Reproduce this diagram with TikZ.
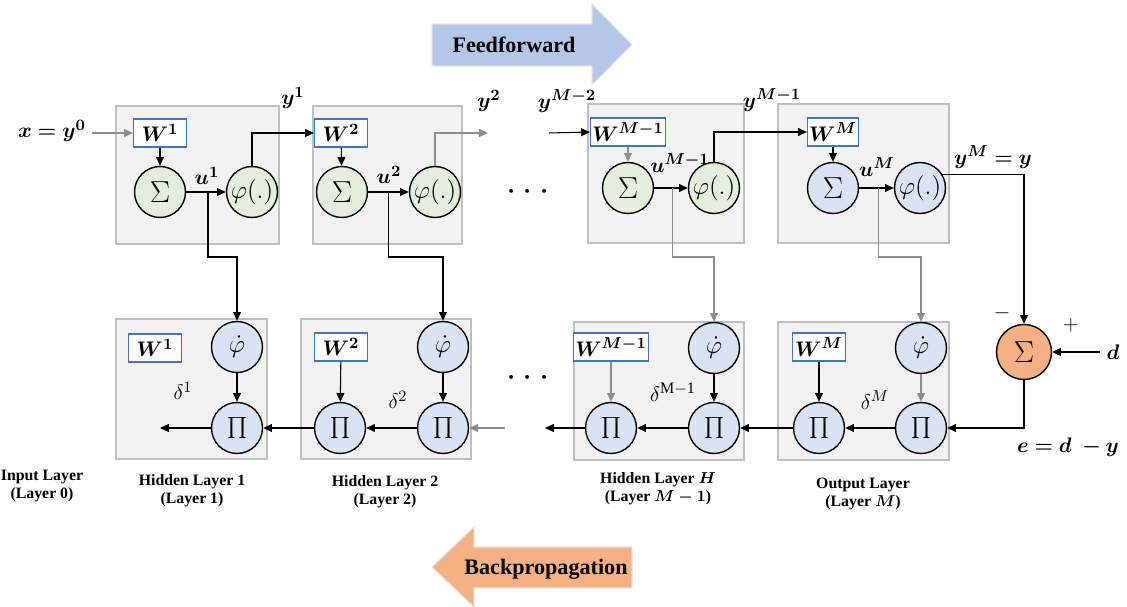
\documentclass[tikz,border=0pt]{standalone}
\usepackage{amsmath}
\usepackage{fontspec}
\setmainfont{Liberation Serif}
\usepackage{bm}
\usetikzlibrary{arrows.meta,calc}

\definecolor{sumgreen}{RGB}{226,239,218}
\definecolor{unitblue}{RGB}{218,227,243}
\definecolor{errorange}{RGB}{244,177,131}
\definecolor{panelgray}{RGB}{242,242,242}
\definecolor{panelline}{RGB}{191,191,191}
\definecolor{wline}{RGB}{68,114,196}
\definecolor{ffblue}{RGB}{180,199,231}

\begin{document}
\begin{tikzpicture}[x = 0.02cm, y = 0.02cm,
        every path/.style = {line width = 0.6pt},
        > = {Triangle[length = 5pt, width = 4.5pt]},
        mathlbl/.style = {font = \fontsize{13}{14}\selectfont},
        wbox/.style = {draw = wline, fill = white, line width = 0.7pt,
            minimum width = 1.06cm, minimum height = 0.56cm, inner sep = 1pt, mathlbl},
        unit/.style = {circle, draw, line width = 0.8pt, minimum size = 1.02cm,
            inner sep = 0pt, font = \fontsize{14}{15}\selectfont},
        sumsym/.style = {font = \fontsize{17}{18}\selectfont},
        prodsym/.style = {font = \fontsize{12}{13}\selectfont},
        faint/.style = {draw = black!45},
        caption/.style = {align = center, font = \fontsize{9}{10}\selectfont\bfseries},
        bigarrow/.style = {font = \fontsize{12.6}{14}\selectfont\bfseries}]

        \useasboundingbox (0,0) rectangle (1127,-607);

        % Free ends of the connectors.
        \coordinate (x0) at (92,-133);
        \coordinate (y2end) at (488,-133);
        \coordinate (yM2) at (549,-133);
        \coordinate (turn) at (0,-257);
        \coordinate (back2) at (505,-428);
        \coordinate (backH) at (545,-428);
        \coordinate (back1) at (160,-428);

        % The gray panels of every layer.
        \begin{scope}[%
            fill = panelgray,
            draw = panelline
        ]
            \filldraw (116,-106) rectangle (279,-244);
            \filldraw (313,-106) rectangle (462,-244);
            \filldraw (588,-104) rectangle (744,-243);
            \filldraw (778,-104) rectangle (949,-243);
            \filldraw (116,-319) rectangle (267,-459);
            \filldraw (301,-319) rectangle (471,-459);
            \filldraw (574,-322) rectangle (744,-460);
            \filldraw (778,-322) rectangle (949,-460);
        \end{scope}

        % The two big arrows.
        \filldraw[fill = ffblue, draw = black!10] (432,-24) -- (592,-24) -- (592,-4)
            -- (632,-44.5) -- (592,-85) -- (592,-66) -- (432,-66) -- cycle;
        \node[bigarrow] (ff) at (514,-45) {Feedforward};
        \filldraw[fill = errorange, draw = black!10] (632,-547) -- (474,-547) -- (474,-527)
            -- (432,-567) -- (474,-607) -- (474,-588) -- (632,-588) -- cycle;
        \node[bigarrow] (bp) at (546,-569) {Backpropagation};

        % Forward pass.
        \node[wbox] (W1) at (160,-133) {$\bm{W^1}$};
        \node[unit, sumsym, fill = sumgreen] (S1) at (160,-192) {$\Sigma$};
        \node[unit, fill = sumgreen] (P1) at (252,-192) {$\varphi(.)$};
        \node[wbox] (W2) at (341,-133) {$\bm{W^2}$};
        \node[unit, sumsym, fill = sumgreen] (S2) at (342,-192) {$\Sigma$};
        \node[unit, fill = sumgreen] (P2) at (435,-192) {$\varphi(.)$};
        \node[wbox, minimum width = 1.28cm] (WH) at (628,-132) {$\bm{W^{M-1}}$};
        \node[unit, sumsym, fill = sumgreen] (SH) at (628,-188) {$\Sigma$};
        \node[unit, fill = sumgreen] (PH) at (714,-188) {$\varphi(.)$};
        \node[wbox, minimum width = 0.9cm] (WM) at (833,-132) {$\bm{W^M}$};
        \node[unit, sumsym, fill = unitblue] (SM) at (833,-188) {$\Sigma$};
        \node[unit, fill = unitblue] (PM) at (920,-188) {$\varphi(.)$};
        \node[unit, sumsym, fill = errorange, minimum size = 1.1cm] (E) at (1024,-352) {$\Sigma$};
        \node[mathlbl] (d) at (1113,-352) {$\bm{d}$};

        % Backward pass.
        \node[wbox] (W1b) at (155,-348) {$\bm{W^1}$};
        \node[unit, fill = unitblue] (D1) at (237,-347) {$\dot{\varphi}$};
        \node[unit, prodsym, fill = unitblue] (Q1) at (237,-428) {$\prod$};
        \node[wbox] (W2b) at (341,-347) {$\bm{W^2}$};
        \node[unit, prodsym, fill = unitblue] (Q21) at (340,-428) {$\prod$};
        \node[unit, fill = unitblue] (D2) at (443,-347) {$\dot{\varphi}$};
        \node[unit, prodsym, fill = unitblue] (Q22) at (443,-428) {$\prod$};
        \node[wbox, minimum width = 1.24cm] (WHb) at (611,-347) {$\bm{W^{M-1}}$};
        \node[unit, prodsym, fill = unitblue] (QH1) at (611,-428) {$\prod$};
        \node[unit, fill = unitblue] (DH) at (714,-348) {$\dot{\varphi}$};
        \node[unit, prodsym, fill = unitblue] (QH2) at (714,-428) {$\prod$};
        \node[wbox] (WMb) at (819,-347) {$\bm{W^M}$};
        \node[unit, prodsym, fill = unitblue] (QM1) at (819,-428) {$\prod$};
        \node[unit, fill = unitblue] (DM) at (921,-348) {$\dot{\varphi}$};
        \node[unit, prodsym, fill = unitblue] (QM2) at (921,-428) {$\prod$};

        % Branch points on the u lines.
        \coordinate (b1) at ($(S1.east)!0.55!(P1.west)$);
        \coordinate (b2) at ($(S2.east)!0.5!(P2.west)$);
        \coordinate (bH) at ($(SH.east)!0.55!(PH.west)$);
        \coordinate (bM) at ($(SM.east)!0.55!(PM.west)$);

        % Forward connectors.
        \draw[->, faint] (x0) -- (W1.west);
        \draw[->] (W1) -- (S1);
        \draw[->] (S1) -- (P1);
        \draw[->] (P1.north) |- (W2.west);
        \draw[->] (W2) -- (S2);
        \draw[->] (S2) -- (P2);
        \draw[->, faint] (P2.north) |- (y2end);
        \draw[->] (yM2) -- (WH.west);
        \draw[->, faint] (WH) -- (SH);
        \draw[->] (SH) -- (PH);
        \draw[->] (PH.north) |- (WM.west);
        \draw[->] (WM) -- (SM);
        \draw[->] (SM) -- (PM);
        \draw[->] (PM.32) -| (E.north);
        \draw[->] (d) -- (E);

        % From the forward pass down to the derivatives.
        \draw[->] (b1) -- (b1 |- turn) -| (D1.north);
        \draw[->] (b2) -- (b2 |- turn) -| (D2.north);
        \draw[->, faint] (bH) -- (bH |- turn) -| (DH.north);
        \draw[->, faint] (bM) -- (bM |- turn) -| (DM.north);

        % Backward connectors.
        \draw[->] (E.south) |- (QM2.east);
        \draw[->, faint] (DM) -- (QM2);
        \draw[->] (WMb) -- (QM1);
        \draw[->] (QM2) -- (QM1);
        \draw[->] (QM1) -- (QH2);
        \draw[->] (DH) -- (QH2);
        \draw[->, faint] (WHb) -- (QH1);
        \draw[->] (QH2) -- (QH1);
        \draw[->] (QH1.west) -- (backH);
        \draw[->, faint] (back2) -- (Q22.east);
        \draw[->] (D2) -- (Q22);
        \draw[->] (W2b) -- (Q21);
        \draw[->] (Q22) -- (Q21);
        \draw[->] (Q21) -- (Q1);
        \draw[->] (D1) -- (Q1);
        \draw[->] (Q1.west) -- (back1);

        % Label everything.
        \node[mathlbl] (lx) at (52,-131) {$\bm{x = y^0}$};
        \node[mathlbl] (ly1) at (293,-98) {$\bm{y^1}$};
        \node[mathlbl] (lu1) at (207,-176) {$\bm{u^1}$};
        \node[mathlbl] (lu2) at (389,-175) {$\bm{u^2}$};
        \node[mathlbl] (ly2) at (489,-101) {$\bm{y^2}$};
        \node[mathlbl] (lyM2) at (567,-101) {$\bm{y^{M-2}}$};
        \node[mathlbl] (luH) at (680,-163) {$\bm{u^{M-1}}$};
        \node[mathlbl] (lyM1) at (772,-100) {$\bm{y^{M-1}}$};
        \node[mathlbl] (luM) at (877,-167) {$\bm{u^M}$};
        \node[mathlbl] (lyM) at (993,-157) {$\bm{y^M = y}$};
        \node[mathlbl] (lminus) at (1002,-313) {$-$};
        \node[mathlbl] (lplus) at (1071,-325) {$+$};
        \node[mathlbl] (le) at (1068,-447) {$\bm{e = d\ - y}$};
        \node[font = \fontsize{22}{22}\selectfont] (dots1) at (531,-192) {$\cdots$};
        \node[font = \fontsize{22}{22}\selectfont] (dots2) at (531,-378) {$\cdots$};
        \node[mathlbl] (ld1) at (183,-391) {$\delta^1$};
        \node[mathlbl] (ld2) at (398,-400) {$\delta^2$};
        \node[mathlbl] (ldH) at (673,-392) {$\delta^{\mathrm{M-1}}$};
        \node[mathlbl] (ldM) at (875,-400) {$\delta^M$};

        % Layer captions.
        \node[caption] (c0) at (42,-486) {Input Layer\\(Layer 0)};
        \node[caption] (c1) at (192,-491) {Hidden Layer 1\\(Layer 1)};
        \node[caption] (c2) at (385,-492) {Hidden Layer 2\\(Layer 2)};
        \node[caption] (cH) at (658,-489) {Hidden Layer $\bm{H}$\\(Layer $\bm{M-1}$)};
        \node[caption] (cM) at (863,-494) {Output Layer\\(Layer $\bm{M}$)};
    \end{tikzpicture}
\end{document}
